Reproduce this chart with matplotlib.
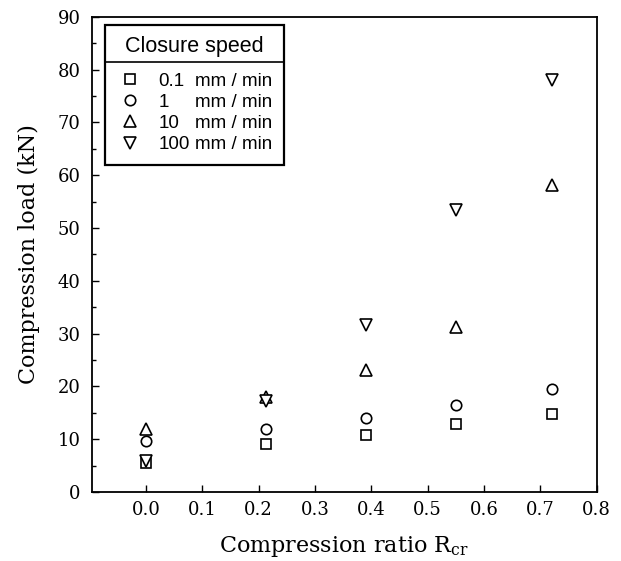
import numpy as np
import matplotlib.pyplot as plt
from matplotlib.lines import Line2D

plt.rcParams['font.family'] = 'DejaVu Serif'

# compression ratio positions
ratio = [0.0, 0.213, 0.39, 0.55, 0.72]

# compression load (kN) for each closure speed
load_01 = [5.5, 9.1, 10.8, 12.9, 14.8]
load_1 = [9.7, 11.9, 14.0, 16.5, 19.5]
load_10 = [12.0, 17.9, 23.1, 31.3, 58.1]
load_100 = [5.8, 17.3, 31.6, 53.4, 78.0]

speeds = ['0.1', '1', '10', '100']
unit = 'mm / min'

fig = plt.figure(figsize=(6.21, 5.61), dpi=100)
ax = fig.add_axes([0.148, 0.123, 0.813, 0.847])

kws = dict(ls='none', mfc='white', mec='black', mew=1.2)
h1, = ax.plot(ratio, load_01, marker='s', ms=7.5, **kws)
h2, = ax.plot(ratio, load_1, marker='o', ms=7.5, **kws)
h3, = ax.plot(ratio, load_10, marker='^', ms=9, **kws)
h4, = ax.plot(ratio, load_100, marker='v', ms=9, **kws)

ax.set_xlim(-0.096, 0.8)
ax.set_ylim(0, 90)
ax.set_xticks(np.arange(0, 0.81, 0.1))
ax.set_yticks(np.arange(0, 91, 10))
ax.set_yticks(np.arange(5, 90, 10), minor=True)
ax.tick_params(direction='in', length=5, width=1, labelsize=13)
ax.tick_params(axis='x', pad=6.5)
ax.tick_params(axis='y', pad=8)
ax.tick_params(which='minor', direction='in', length=3, width=1)
for s in ax.spines.values():
    s.set_linewidth(1.3)

ax.set_xlabel('Compression ratio R$\\mathregular{_{cr}}$', fontsize=16, labelpad=11)
ax.set_ylabel('Compression load (kN)', fontsize=16, labelpad=13)

# legend: numbers in first column, units in second column
blank = Line2D([], [], ls='none', marker='none')
handles = [h1, h2, h3, h4] + [blank] * 4
labels = speeds + [unit] * 4
fs = 13.5
hl, htp = 1.5, 0.75
leg = ax.legend(handles, labels, ncol=2, loc='upper left', bbox_to_anchor=(0.026, 0.983),
                title='Closure speed',
                prop={'family': 'Liberation Sans', 'size': fs},
                title_fontproperties={'family': 'Liberation Sans', 'size': 15.5},
                frameon=True, fancybox=False, edgecolor='black', framealpha=1,
                borderpad=0.6, labelspacing=0.22, handletextpad=htp, handlelength=hl,
                columnspacing=0.3 - hl - htp, borderaxespad=0)
leg.get_frame().set_linewidth(1.6)
leg._legend_box.sep = 11

# separator line under the legend title
fig.canvas.draw()
fb = leg.get_frame().get_window_extent()
tb = leg.get_title().get_window_extent()
inv = fig.transFigure.inverted()
(x0, y0), (x1, _) = inv.transform([(fb.x0, tb.y0 - 5), (fb.x1, tb.y0 - 5)])
fig.add_artist(Line2D([x0, x1], [y0, y0], transform=fig.transFigure,
                      color='black', lw=1.2, zorder=10))

fig.savefig('out.png', dpi=100)
